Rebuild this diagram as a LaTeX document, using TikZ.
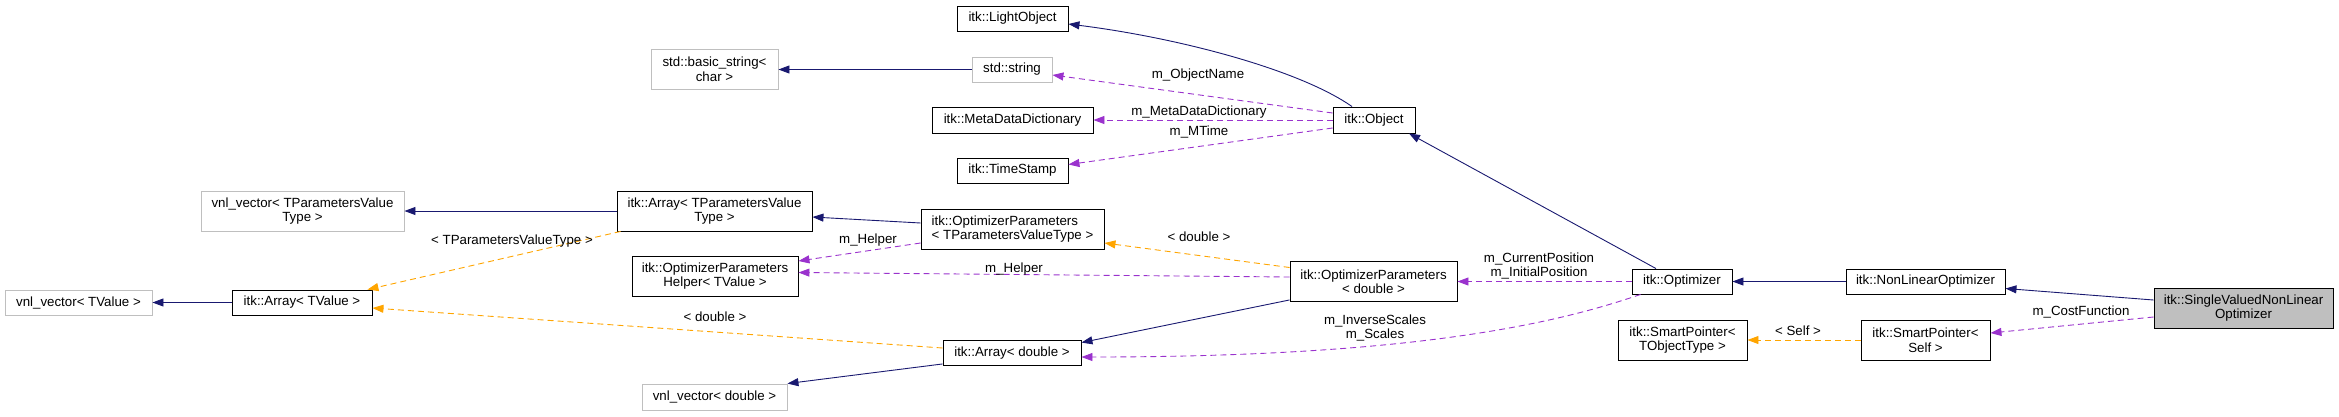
\documentclass[tikz,border=0pt]{standalone}
\usepackage{fontspec}
\setmainfont{Liberation Sans}
\usetikzlibrary{arrows.meta,calc}
\definecolor{edgenavy}{HTML}{191970}
\definecolor{edgepurple}{HTML}{9A32CD}
\definecolor{edgeorange}{HTML}{FFA500}
\definecolor{greyb}{HTML}{BFBFBF}
\begin{document}
\begin{tikzpicture}[x=1pt,y=-1pt,
  font=\fontsize{13.3}{14.5}\selectfont,
  cls/.style={draw=black, line width=0.9pt, fill=white, inner sep=0pt, align=center, minimum height=25pt},
  ext/.style={cls, draw=greyb},
  cur/.style={cls, fill=greyb, draw=black},
  inh/.style={draw=edgenavy, line width=0.9pt, -{Triangle[length=11pt,width=8pt]}},
  usage/.style={draw=edgepurple, line width=0.9pt, dash pattern=on 6pt off 4pt, -{Triangle[length=11pt,width=8pt]}},
  tmpl/.style={draw=edgeorange, line width=0.9pt, dash pattern=on 6pt off 4pt, -{Triangle[length=11pt,width=8pt]}},
  lbl/.style={inner sep=0pt, align=center}]
\useasboundingbox (0,0) rectangle (2339,416);
% nodes
\node[ext, minimum width=203pt, minimum height=40pt] (vtp) at (302.5,211) {vnl\_vector< TParametersValue\\Type >};
\node[ext, minimum width=147pt] (vtv) at (78.5,302.5) {vnl\_vector< TValue >};
\node[cls, minimum width=140pt] (atv) at (302,302.5) {itk::Array< TValue >};
\node[cls, minimum width=195pt, minimum height=40pt] (atp) at (714.5,211) {itk::Array< TParametersValue\\Type >};
\node[ext, minimum width=127pt, minimum height=40pt] (bstr) at (714.5,69) {std::basic\_string<\\char >};
\node[cls, minimum width=111pt] (lo) at (1012.5,18.5) {itk::LightObject};
\node[ext, minimum width=80pt] (str) at (1012,69.5) {std::string};
\node[cls, minimum width=161pt, minimum height=26pt] (mdd) at (1012.5,120) {itk::MetaDataDictionary};
\node[cls, minimum width=111pt] (ts) at (1012.5,170.5) {itk::TimeStamp};
\node[cls, minimum width=166pt, minimum height=40pt] (hlp) at (715,276) {itk::OptimizerParameters\\Helper< TValue >};
\node[cls, minimum width=183pt, minimum height=40pt, align=left] (optp) at (1012.5,229) {itk::OptimizerParameters\\< TParametersValueType >};
\node[cls, minimum width=138pt] (ad) at (1012,353) {itk::Array< double >};
\node[ext, minimum width=145pt, minimum height=26pt] (vd) at (714.5,397) {vnl\_vector< double >};
\node[cls, minimum width=167pt, minimum height=40pt] (opd) at (1373.5,281.5) {itk::OptimizerParameters\\< double >};
\node[cls, minimum width=82pt, minimum height=26pt] (obj) at (1374,120) {itk::Object};
\node[cls, minimum width=100pt] (opt) at (1682,281.5) {itk::Optimizer};
\node[cls, minimum width=129pt, minimum height=40pt] (spt) at (1682.5,340) {itk::SmartPointer<\\TObjectType >};
\node[cls, minimum width=159pt] (nlo) at (1925.5,281.5) {itk::NonLinearOptimizer};
\node[cls, minimum width=129pt, minimum height=40pt] (sps) at (1925.5,340) {itk::SmartPointer<\\Self >};
\node[cur, minimum width=179pt, minimum height=40pt] (svo) at (2243.5,308) {itk::SingleValuedNonLinear\\Optimizer};
% edges
\draw[inh] ($(obj.north)+(-22,0)$) .. controls (1300,70) and (1180,38) .. ($(lo.east)+(0,5.5)$);
\draw[inh] (str.west) -- (str.west -| bstr.east);
\draw[usage] ($(obj.west)+(0,-7)$) -- ($(str.east)+(0,5.5)$);
\draw[usage] (obj.west) -- (mdd.east);
\draw[usage] ($(obj.west)+(0,8)$) -- ($(ts.east)+(0,-6)$);
\draw[inh] ($(opt.north)+(-26,0)$) -- ($(obj.south)+(35,0)$);
\draw[inh] (nlo.west) -- (opt.east);
\draw[inh] ($(svo.west)+(0,-8)$) -- ($(nlo.east)+(0,7)$);
\draw[usage] ($(svo.west)+(0,9)$) -- ($(sps.east)+(0,-7)$);
\draw[tmpl] (sps.west) -- (spt.east);
\draw[usage] (opt.west) -- (opd.east);
\draw[usage] ($(opt.south west)+(9,0)$) .. controls (1560,322) and (1420,357) .. ($(ad.east)+(0,4)$);
\draw[inh] ($(opd.south west)+(0,-2)$) -- ($(ad.north east)+(0,2.5)$);
\draw[tmpl] ($(opd.west)+(0,-14)$) -- ($(optp.east)+(0,14)$);
\draw[usage] ($(opd.west)+(0,-4.5)$) -- ($(hlp.east)+(0,-3.5)$);
\draw[usage] ($(optp.west)+(0,14)$) -- ($(hlp.east)+(0,-15)$);
\draw[inh] ($(optp.west)+(0,-6)$) -- ($(atp.east)+(0,6)$);
\draw[inh] (atp.west) -- (vtp.east);
\draw[tmpl] ($(atp.south west)+(4,0)$) -- ($(atv.north east)+(-5,0)$);
\draw[tmpl] ($(ad.west)+(0,-5)$) -- ($(atv.east)+(0,5.5)$);
\draw[inh] ($(ad.south west)+(0,-2)$) -- (vd.north east);
\draw[inh] (atv.west) -- (vtv.east);
% labels
\node[lbl] (l1) at (1198,75) {m\_ObjectName};
\node[lbl] (l2) at (1199,112) {m\_MetaDataDictionary};
\node[lbl] (l3) at (1199,132) {m\_MTime};
\node[lbl] (l4) at (2081,312) {m\_CostFunction};
\node[lbl] (l5) at (1798,331) {< Self >};
\node[lbl] (l6) at (1539,266) {m\_CurrentPosition\\m\_InitialPosition};
\node[lbl] (l7) at (1375,328) {m\_InverseScales\\m\_Scales};
\node[lbl] (l8) at (1199,237) {< double >};
\node[lbl] (l9) at (1014,269) {m\_Helper};
\node[lbl] (l10) at (868,240) {m\_Helper};
\node[lbl] (l11) at (512,241) {< TParametersValueType >};
\node[lbl] (l12) at (715,317) {< double >};
\end{tikzpicture}
\end{document}
